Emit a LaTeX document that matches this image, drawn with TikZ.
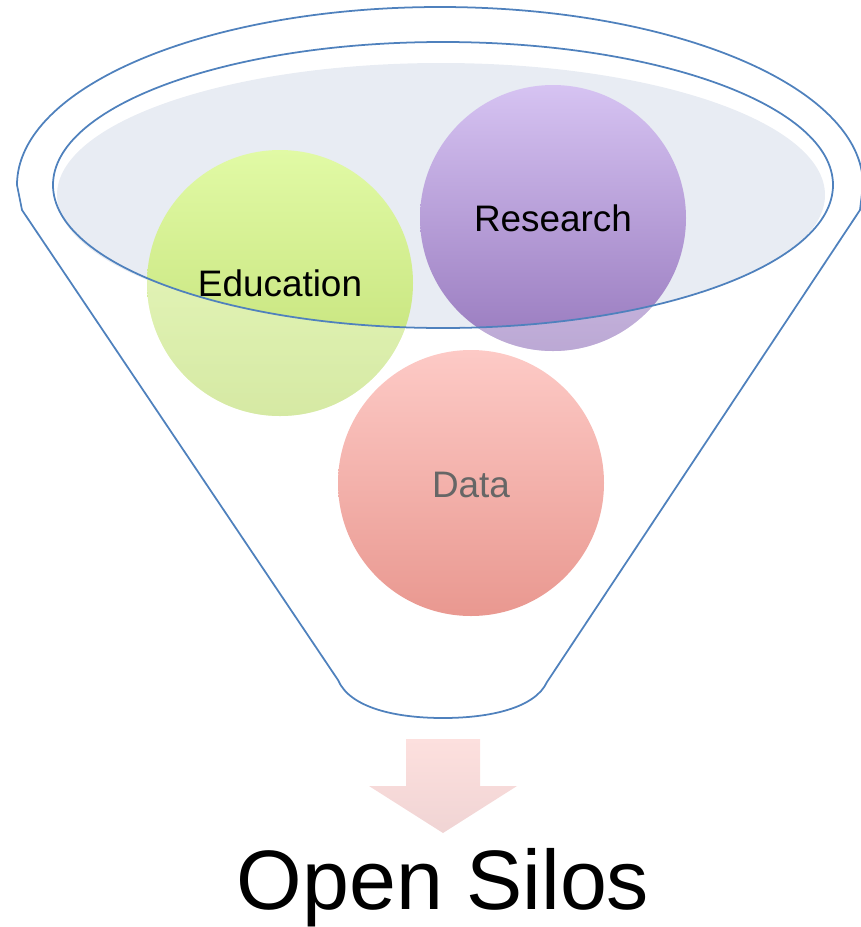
\documentclass[tikz,border=0pt]{standalone}
\usepackage{fontspec}
\setmainfont{Liberation Sans}
\usepackage{xcolor}
\definecolor{rim}{RGB}{79, 129, 189}
\definecolor{glass}{RGB}{232, 236, 243}
\definecolor{eduTop}{RGB}{225, 250, 165}
\definecolor{eduBot}{RGB}{192, 222, 115}
\definecolor{resTop}{RGB}{214, 195, 242}
\definecolor{resBot}{RGB}{152, 122, 190}
\definecolor{datTop}{RGB}{253, 202, 198}
\definecolor{datBot}{RGB}{233, 152, 144}
\definecolor{arrTop}{RGB}{253, 224, 222}
\definecolor{arrBot}{RGB}{240, 212, 212}
\definecolor{datText}{RGB}{102, 102, 102}

\begin{document}
\begin{tikzpicture}[x=0.02cm, y=-0.02cm, label/.style={font=\fontsize{21}{25}\selectfont}]
        \useasboundingbox (0, 0) rectangle (860, 927);
        \fill[glass] (441, 195) ellipse (384 and 132);
        \shade[top color=eduTop, bottom color=eduBot] (280, 283) circle (133);
        \shade[top color=resTop, bottom color=resBot] (553, 218) circle (133);
        \shade[top color=datTop, bottom color=datBot] (471, 483) circle (133);
        \begin{scope}
            \clip (280, 283) circle (133) (553, 218) circle (133);
            \fill[white, fill opacity=0.35, even odd rule] (0, 0) rectangle (860, 927) (443, 185) ellipse (390 and 143);
        \end{scope}
        \draw[rim, line width=1pt] (443, 185) ellipse (390 and 143);
        \draw[rim, line width=1pt] (547, 682) .. controls (535, 708) and (490, 718) .. (443, 718)
            .. controls (396, 718) and (350, 708) .. (338, 680) -- (22, 210) -- (17, 185)
            arc[start angle=180, end angle=360, x radius=423, y radius=178] -- (860, 210) -- cycle;
        \shade[top color=arrTop, bottom color=arrBot] (406, 739) -- (480, 739) -- (480, 786) -- (517, 786)
            -- (443, 833) -- (369, 786) -- (406, 786) -- cycle;
        \node[label] (edu) at (280, 283) {Education};
        \node[label] (res) at (553, 218) {Research};
        \node[label, text=datText] (dat) at (471, 485) {Data};
        \node[anchor=base, inner sep=0pt, font=\fontsize{48}{56}\selectfont] (silos) at (443, 909) {Open Silos};
    \end{tikzpicture}
\end{document}
